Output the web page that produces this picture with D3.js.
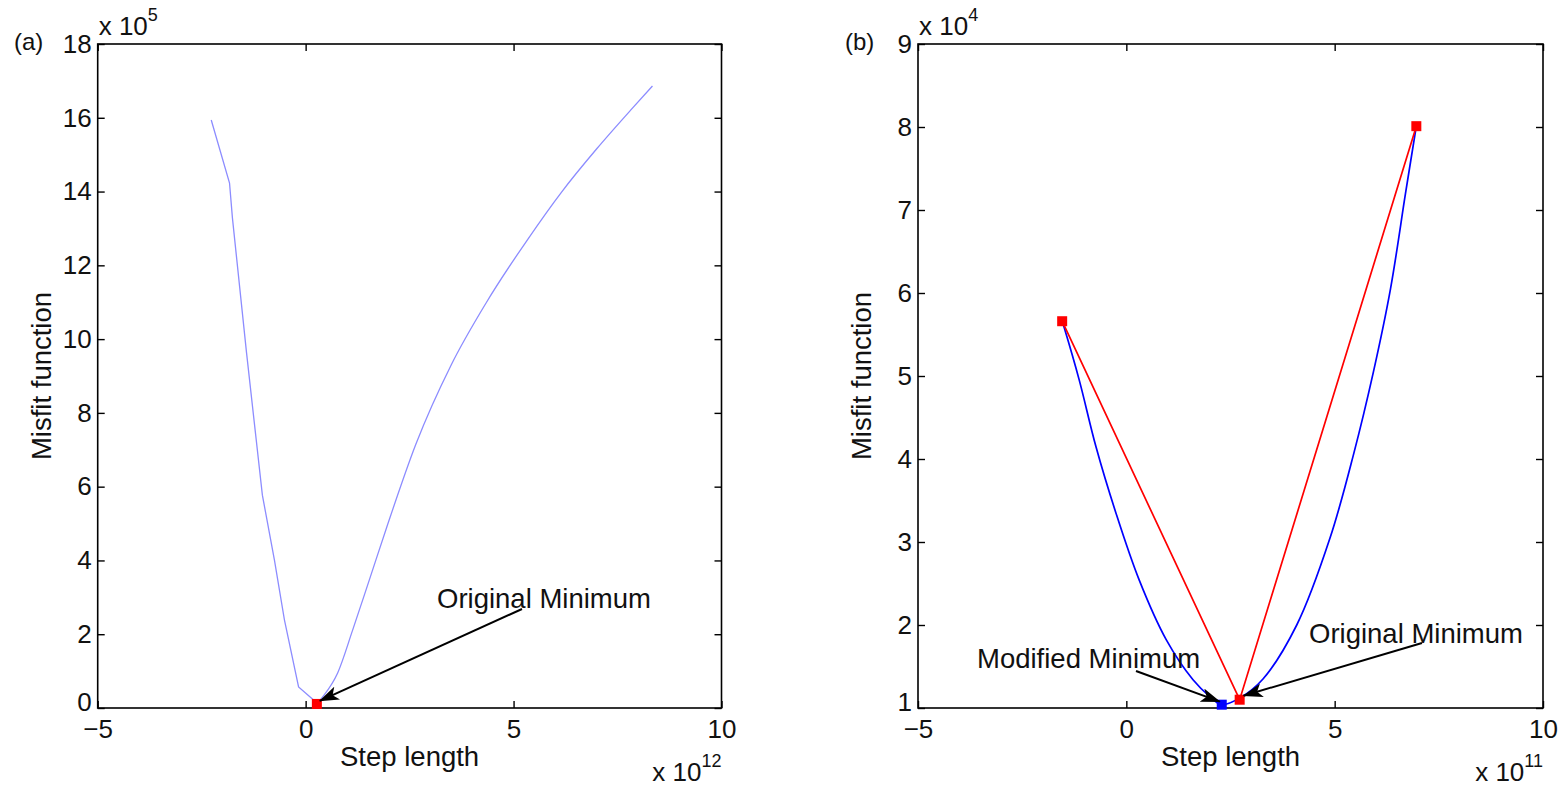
<!DOCTYPE html>
<html>
<head>
<meta charset="utf-8">
<script src="https://cdn.jsdelivr.net/npm/d3@7"></script>
<style>
  html, body { margin: 0; padding: 0; background: #fff; }
  svg { display: block; }
  text { font-family: Arial, "Liberation Sans", Helvetica, sans-serif; fill: #111; }
</style>
</head>
<body>
<svg id="chart" width="1560" height="787"></svg>
<script>
// ---------- data ----------
const xTicks = [-5, 0, 5, 10];
const yTicksA = [0, 2, 4, 6, 8, 10, 12, 14, 16, 18];
const yTicksB = [1, 2, 3, 4, 5, 6, 7, 8, 9];

// Panel (a): misfit vs step length (x in 1e12, y in 1e5)
// left branch (down to the minimum)
const aLeftX = [-2.27, -1.83, -1.76, -1.42, -1.04, -0.75, -0.51, -0.17, 0.17, 0.27];
const aLeftY = [15.94, 14.23, 13.28, 9.62, 5.77, 4.01, 2.39, 0.57, 0.24, 0.11];
// right branch (from the minimum up)
const aRightX = [0.27, 0.41, 0.77, 1.13, 1.54, 1.95, 2.65, 3.50, 4.35, 5.35, 6.15, 7.00, 7.81, 8.34];
const aRightY = [0.11, 0.30, 0.95, 2.11, 3.50, 4.90, 7.15, 9.30, 11.00, 12.72, 13.98, 15.16, 16.20, 16.86];
const aMinimum = [0.27, 0.11];

// Panel (b): x in 1e11, y in 1e4
const bBlueX = [-1.54, -1.49, -1.13, -0.73, -0.25, 0.31, 0.96, 1.60, 2.00, 2.29, 2.72, 3.28, 4.09, 4.89, 5.45, 5.93, 6.34, 6.70, 6.96];
const bBlueY = [5.66, 5.58, 4.95, 4.15, 3.35, 2.54, 1.82, 1.34, 1.14, 1.04, 1.12, 1.35, 2.00, 3.05, 4.05, 5.05, 6.05, 7.20, 8.01];
const bRedX = [-1.54, 2.72, 6.96];
const bRedY = [5.66, 1.10, 8.01];
const bModifiedMin = [2.29, 1.04];

const panelLabels = ["(a)", "(b)"];
const xLabel = "Step length";
const yLabel = "Misfit function";
const annoOriginal = "Original Minimum";
const annoModified = "Modified Minimum";

// ---------- drawing ----------
const svg = d3.select("#chart");
const TICKFONT = 26;
const FONT = 27.5;

const defs = svg.append("defs");
defs.append("marker")
  .attr("id", "arrow")
  .attr("viewBox", "0 0 20 14")
  .attr("refX", 19).attr("refY", 7)
  .attr("markerWidth", 20).attr("markerHeight", 14)
  .attr("markerUnits", "userSpaceOnUse")
  .attr("orient", "auto")
  .append("path")
  .attr("d", "M0,0 L20,7 L0,14 L5,7 Z")
  .attr("fill", "#000");

function drawPanel(cfg) {
  const g = svg.append("g");
  const x = d3.scaleLinear().domain([-5, 10]).range([cfg.left, cfg.right]);
  const y = d3.scaleLinear().domain(cfg.yDomain).range([708, 44]);

  // axes (ticks inward)
  const ax = g.append("g").attr("transform", `translate(0,708)`)
    .call(d3.axisBottom(x).tickValues(xTicks).tickSize(-7).tickPadding(12).tickFormat(d3.format("d")));
  const axT = g.append("g").attr("transform", `translate(0,44)`)
    .call(d3.axisTop(x).tickValues(xTicks).tickSize(-7).tickFormat(""));
  const ay = g.append("g").attr("transform", `translate(${cfg.left},0)`)
    .call(d3.axisLeft(y).tickValues(cfg.yTicks).tickSize(-7).tickPadding(6).tickFormat(d3.format("d")));
  const ayR = g.append("g").attr("transform", `translate(${cfg.right},0)`)
    .call(d3.axisRight(y).tickValues(cfg.yTicks).tickSize(-7).tickFormat(""));
  [ax, axT, ay, ayR].forEach(a => {
    a.select(".domain").remove();
    a.selectAll(".tick line").attr("stroke", "#000").attr("stroke-width", 1.4);
    a.selectAll(".tick text").attr("font-size", TICKFONT).attr("fill", "#111")
      .style("font-family", 'Arial, "Liberation Sans", sans-serif');
  });
  // lowest y label sits slightly above its tick, as in the reference
  ay.selectAll(".tick text").filter(d => d === cfg.yDomain[0]).attr("dy", "0.08em");

  // box
  g.append("rect")
    .attr("x", cfg.left).attr("y", 44)
    .attr("width", cfg.right - cfg.left).attr("height", 664)
    .attr("fill", "none").attr("stroke", "#000").attr("stroke-width", 1.6);

  cfg.draw(g, x, y);

  // exponent labels
  const ey = g.append("text").attr("x", cfg.left + 1).attr("y", 35).attr("font-size", TICKFONT);
  ey.append("tspan").text("x 10");
  ey.append("tspan").attr("dy", -14).attr("font-size", 18).text(cfg.yExp);

  const ex = g.append("text").attr("x", cfg.right).attr("y", 781)
    .attr("text-anchor", "end").attr("font-size", TICKFONT);
  ex.append("tspan").text("x 10");
  ex.append("tspan").attr("dy", -14).attr("font-size", 18).text(cfg.xExp);

  // axis titles
  g.append("text").attr("x", (cfg.left + cfg.right) / 2).attr("y", 766)
    .attr("text-anchor", "middle").attr("font-size", FONT).text(xLabel);
  g.append("text")
    .attr("transform", `translate(${cfg.left - 47},376) rotate(-90)`)
    .attr("text-anchor", "middle").attr("font-size", FONT).text(yLabel);

  // panel label
  g.append("text").attr("x", cfg.labelX).attr("y", 50).attr("font-size", TICKFONT - 2).text(cfg.label);
}

function arrow(g, x1, y1, x2, y2) {
  g.append("line").attr("x1", x1).attr("y1", y1).attr("x2", x2).attr("y2", y2)
    .attr("stroke", "#000").attr("stroke-width", 2)
    .attr("marker-end", "url(#arrow)");
}

// Panel (a)
drawPanel({
  left: 97.7, right: 721.5, yDomain: [0, 18], yTicks: yTicksA,
  yExp: "5", xExp: "12", label: panelLabels[0], labelX: 14,
  draw: (g, x, y) => {
    const left = aLeftX.map((v, i) => [v, aLeftY[i]]);
    const right = aRightX.map((v, i) => [v, aRightY[i]]);
    g.append("path").datum(left)
      .attr("fill", "none").attr("stroke", "#8c8cff").attr("stroke-width", 1.3)
      .attr("d", d3.line().x(d => x(d[0])).y(d => y(d[1])));
    g.append("path").datum(right)
      .attr("fill", "none").attr("stroke", "#8c8cff").attr("stroke-width", 1.3)
      .attr("d", d3.line().curve(d3.curveMonotoneX).x(d => x(d[0])).y(d => y(d[1])));
    g.append("rect")
      .attr("x", x(aMinimum[0]) - 5).attr("y", y(aMinimum[1]) - 5)
      .attr("width", 10).attr("height", 10).attr("fill", "#ff0000");
    arrow(g, 522, 609, x(aMinimum[0]) + 3, y(aMinimum[1]) - 3);
    g.append("text").attr("x", 437).attr("y", 608).attr("font-size", FONT).text(annoOriginal);
  }
});

// Panel (b)
drawPanel({
  left: 918, right: 1543, yDomain: [1, 9], yTicks: yTicksB,
  yExp: "4", xExp: "11", label: panelLabels[1], labelX: 845,
  draw: (g, x, y) => {
    const blue = bBlueX.map((v, i) => [v, bBlueY[i]]);
    const red = bRedX.map((v, i) => [v, bRedY[i]]);
    g.append("path").datum(blue)
      .attr("fill", "none").attr("stroke", "#0000ff").attr("stroke-width", 1.7)
      .attr("d", d3.line().curve(d3.curveCatmullRom).x(d => x(d[0])).y(d => y(d[1])));
    g.append("path").datum(red)
      .attr("fill", "none").attr("stroke", "#ff0000").attr("stroke-width", 1.7)
      .attr("d", d3.line().x(d => x(d[0])).y(d => y(d[1])));
    g.selectAll(".redsq").data(red).enter().append("rect")
      .attr("x", d => x(d[0]) - 5).attr("y", d => y(d[1]) - 5)
      .attr("width", 10).attr("height", 10).attr("fill", "#ff0000");
    g.append("rect")
      .attr("x", x(bModifiedMin[0]) - 5).attr("y", y(bModifiedMin[1]) - 5)
      .attr("width", 10).attr("height", 10).attr("fill", "#0000ff");
    arrow(g, 1136, 671, x(bModifiedMin[0]) - 2, y(bModifiedMin[1]) - 3);
    arrow(g, 1422, 643, x(bRedX[1]) + 4, y(bRedY[1]) - 4);
    g.append("text").attr("x", 977).attr("y", 668).attr("font-size", FONT).text(annoModified);
    g.append("text").attr("x", 1309).attr("y", 643).attr("font-size", FONT).text(annoOriginal);
  }
});
</script>
</body>
</html>
